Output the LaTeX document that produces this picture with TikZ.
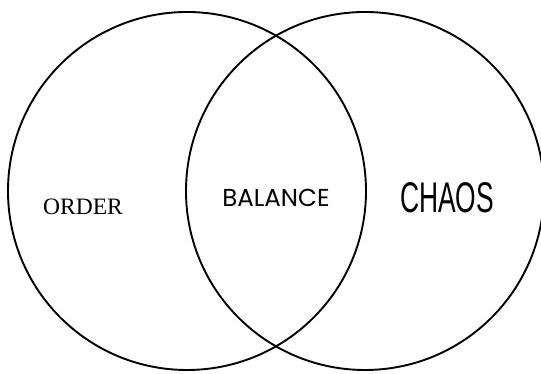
\documentclass[tikz,border=0pt]{standalone}
\usepackage{fontspec}
\setmainfont{Liberation Serif}
\newfontfamily\balfont{Poppins}
\newfontfamily\chaosfont{Liberation Sans}
\begin{document}
\begin{tikzpicture}[x=1pt,y=1pt,
  ring/.style={circle, draw=black, line width=1.9pt, minimum size=358pt, inner sep=0pt, outer sep=0pt},
  lbl/.style={anchor=base, inner sep=0pt}]
\useasboundingbox (0,0) rectangle (541,374);
\fill[white] (0,0) rectangle (541,374);
\node[ring] (left) at (187,183) {};
\node[ring] (right) at (365,183) {};
\node[lbl, font=\fontsize{23.5}{23.5}\selectfont] (order) at (83,159) {ORDER};
\node[lbl, font=\balfont\fontsize{24.5}{24.5}\selectfont] (balance) at (276,167) {BALANCE};
\node[lbl] (chaos) at (447,161) {\scalebox{1.2}[1.95]{\chaosfont\fontsize{22}{22}\selectfont CHAOS}};
\end{tikzpicture}
\end{document}
